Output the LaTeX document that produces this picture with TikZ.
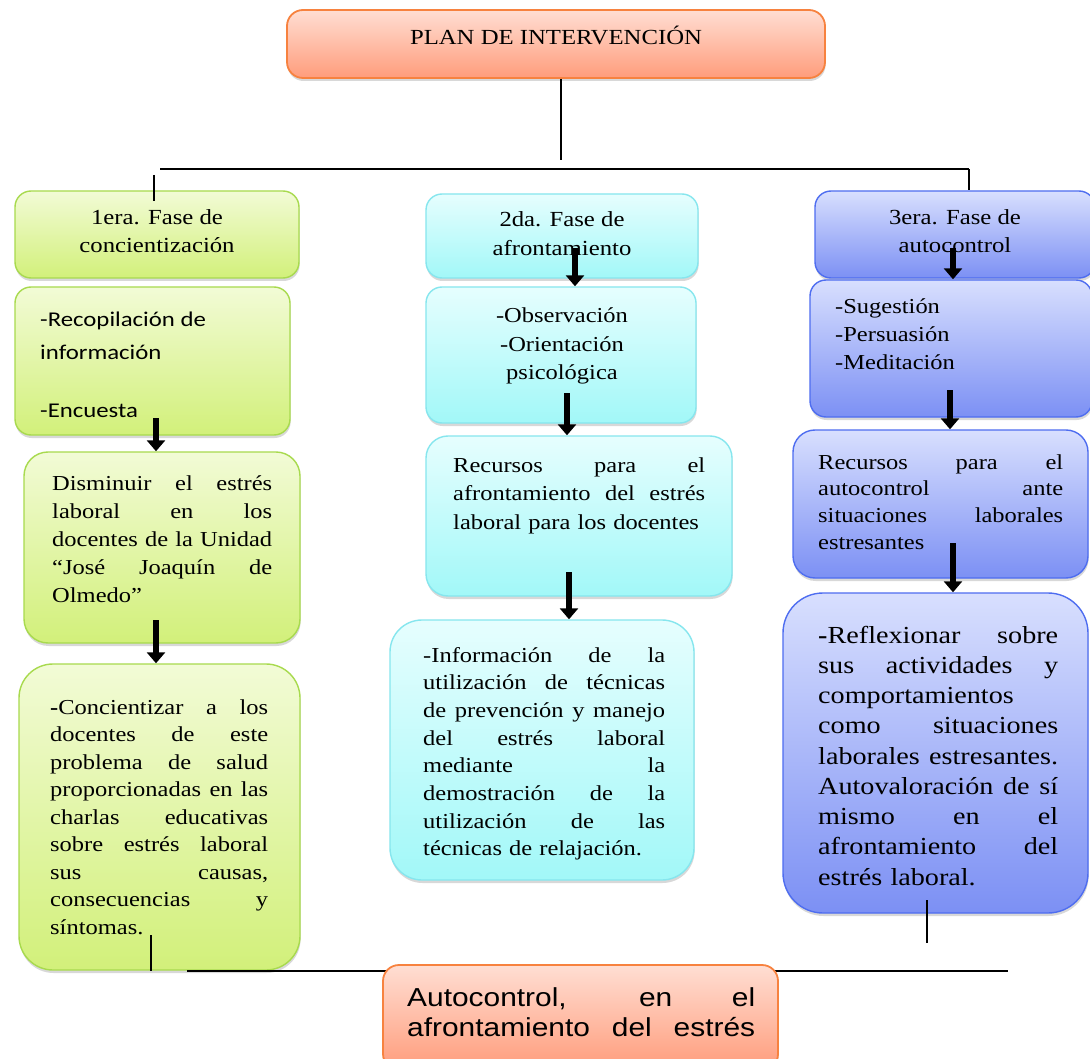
\documentclass[tikz,border=0pt]{standalone}
\usepackage{fontspec}
\setmainfont{Liberation Serif}[FakeStretch=1.15]
\newfontfamily\calfont{Carlito}[FakeStretch=1.18]
\newfontfamily\arfont{Liberation Sans}[FakeStretch=1.15]
\usetikzlibrary{arrows.meta,shadows}
\newcommand\jl[1]{\makebox[\hsize][s]{\spaceskip=0pt\xspaceskip=0pt #1}}
\definecolor{gtop}{HTML}{F2FBD6}
\definecolor{gbot}{HTML}{D2F07A}
\definecolor{gbd}{HTML}{A8DA4E}
\definecolor{ctop}{HTML}{E6FEFE}
\definecolor{cbot}{HTML}{A2F8F8}
\definecolor{cbd}{HTML}{86E6EE}
\definecolor{btop}{HTML}{D8DFFE}
\definecolor{bbot}{HTML}{7C90F4}
\definecolor{bbd}{HTML}{4E6DF0}
\definecolor{otop}{HTML}{FFDED3}
\definecolor{obot}{HTML}{FF9C7B}
\definecolor{obd}{HTML}{F7823F}
\tikzset{
  box/.style={draw, line width=1.4pt, rounded corners=16pt,
    drop shadow={shadow xshift=0.6pt, shadow yshift=-3pt, opacity=0.3}},
  gbox/.style={box, draw=gbd, top color=gtop, bottom color=gbot},
  cbox/.style={box, draw=cbd, top color=ctop, bottom color=cbot},
  bbox/.style={box, draw=bbd, top color=btop, bottom color=bbot},
  obox/.style={box, draw=obd, line width=1.8pt, top color=otop, bottom color=obot},
  lab/.style={inner sep=0pt, anchor=base},
  jtext/.style={inner sep=0pt, anchor=base west, align=left},
  bigarrow/.style={line width=6pt, -{Triangle[width=18pt,length=11pt]}},
  thinline/.style={line width=1.2pt},
  busline/.style={line width=2.6pt},
}
\begin{document}
\begin{tikzpicture}[x=1pt,y=-1pt]
\useasboundingbox (0,0) rectangle (1090,1059);
\clip (0,0) rectangle (1090,1059);
\fill[white] (0,0) rectangle (1090,1059);

% coordinates for connectors
\coordinate (tdrop) at (561,160);
\coordinate (busL) at (160,169);
\coordinate (busR) at (969,169);
\coordinate (stubL) at (154,175);
\coordinate (stubLend) at (154,201);
\coordinate (botL) at (151,935);
\coordinate (hubL) at (187,971);
\coordinate (hubR) at (1008,971);
\coordinate (botR) at (927,900);
\coordinate (botRend) at (927,943);
\coordinate (a1) at (156,418);
\coordinate (a2) at (156,620);
\coordinate (a3) at (575,248);
\coordinate (a4) at (567,393);
\coordinate (a5) at (569,572);
\coordinate (a6) at (953,248);
\coordinate (a7) at (950,390);
\coordinate (a8) at (953,543);

% top box
\node[obox, minimum width=538pt, minimum height=68pt] (T) at (556,44) {};
\node[lab, font=\fontsize{21.5}{26}\selectfont] (Tt) at (556,45) {PLAN DE INTERVENCIÓN};

\draw[thinline] (tdrop |- T.south) -- (tdrop);
\draw[busline] (busL) -- (busR);

% column heads
\node[gbox, minimum width=284pt, minimum height=87pt] (G1) at (157,234.5) {};
\node[cbox, minimum width=272pt, minimum height=84pt] (C1) at (562,236) {};
\node[bbox, minimum width=280pt, minimum height=87pt] (B1) at (955,234.5) {};
\node[lab, align=center, font=\fontsize{21.5}{28}\selectfont] (G1t) at (157,253) {1era. Fase de\\concientización};
\node[lab, align=center, font=\fontsize{21.5}{29}\selectfont] (C1t) at (562,256) {2da. Fase de\\afrontamiento};
\node[lab, align=center, font=\fontsize{21.5}{28}\selectfont] (B1t) at (955,253) {3era. Fase de\\autocontrol};

\draw[thinline] (stubL) -- (stubLend);
\draw[thinline] (busR) -- (busR |- B1.north);

% column 1
\node[gbox, minimum width=275pt, minimum height=148pt] (G2) at (152.5,361) {};
\node[jtext, font=\calfont\fontsize{21}{33}\selectfont] (G2t) at (40,417) {-Recopilación de\\información\\[25pt]-Encuesta};
\node[gbox, minimum width=276pt, minimum height=191pt, rounded corners=24pt] (G3) at (162,547.5) {};
\node[jtext, text width=220pt, font=\fontsize{21.3}{28}\selectfont] (G3t) at (52,490) {\jl{Disminuir el estrés}\\\jl{laboral en los}\\\jl{docentes de la Unidad}\\\jl{“José Joaquín de}\\Olmedo”};
\node[gbox, minimum width=281pt, minimum height=306pt, rounded corners=34pt] (G4) at (159.5,817) {};
\node[jtext, text width=218pt, font=\fontsize{21.3}{27.5}\selectfont] (G4t) at (50,714) {\jl{\textbf{-}Concientizar a los}\\\jl{docentes de este}\\\jl{problema de salud}\\\jl{proporcionadas en las}\\\jl{charlas educativas}\\\jl{sobre estrés laboral}\\\jl{sus causas,}\\\jl{consecuencias y}\\síntomas.};

% column 2
\node[cbox, minimum width=270pt, minimum height=136pt] (C2) at (561,355) {};
\node[lab, align=center, font=\fontsize{21.3}{29}\selectfont] (C2t) at (562,380) {-Observación\\-Orientación\\psicológica};
\node[cbox, minimum width=306pt, minimum height=160pt, rounded corners=22pt] (C3) at (579,516) {};
\node[jtext, text width=252pt, font=\fontsize{21.3}{28.5}\selectfont] (C3t) at (453,472) {\jl{Recursos para el}\\\jl{afrontamiento del estrés}\\laboral para los docentes};
\node[cbox, minimum width=304pt, minimum height=260pt, rounded corners=32pt] (C4) at (542,750) {};
\node[jtext, text width=242pt, font=\fontsize{21.3}{27.7}\selectfont] (C4t) at (423,662) {\jl{-Información de la}\\\jl{utilización de técnicas}\\\jl{de prevención y manejo}\\\jl{del estrés laboral}\\\jl{mediante la}\\\jl{demostración de la}\\\jl{utilización de las}\\técnicas de relajación.};

% column 3
\node[bbox, minimum width=282pt, minimum height=137pt] (B2) at (951,348.5) {};
\node[jtext, font=\fontsize{21.3}{28}\selectfont] (B2t) at (835,370) {-Sugestión\\-Persuasión\\-Meditación};
\node[bbox, minimum width=295pt, minimum height=148pt, rounded corners=22pt] (B3) at (940.5,504) {};
\node[jtext, text width=245pt, font=\fontsize{21.3}{26.7}\selectfont] (B3t) at (818,469) {\jl{Recursos para el}\\\jl{autocontrol ante}\\\jl{situaciones laborales}\\estresantes};
\node[bbox, minimum width=305pt, minimum height=320pt, rounded corners=40pt] (B4) at (935.5,753) {};
\node[jtext, text width=240pt, font=\fontsize{24.5}{30.25}\selectfont] (B4t) at (818,643) {\jl{\textbf{-}Reflexionar sobre}\\\jl{sus actividades y}\\comportamientos\\\jl{como situaciones}\\\jl{laborales estresantes.}\\\jl{Autovaloración de sí}\\\jl{mismo en el}\\\jl{afrontamiento del}\\estrés laboral.};

% arrows
\draw[bigarrow] (a1) -- (a1 |- G3.north);
\draw[bigarrow] (a2) -- (a2 |- G4.north);
\draw[bigarrow] (a3) -- (a3 |- C2.north);
\draw[bigarrow] (a4) -- (a4 |- C3.north);
\draw[bigarrow] (a5) -- (a5 |- C4.north);
\draw[bigarrow] (a6) -- (a6 |- B2.north);
\draw[bigarrow] (a7) -- (a7 |- B3.north);
\draw[bigarrow] (a8) -- (a8 |- B4.north);

% bottom connectors
\draw[thinline] (botL) -- (botL |- G4.south);
\draw[busline] (hubL) -- (hubR);
\draw[thinline] (botR) -- (botRend);

% bottom box
\node[obox, minimum width=395pt, minimum height=105pt] (O) at (580.5,1017.5) {};
\node[jtext, text width=348pt, font=\arfont\fontsize{26}{30}\selectfont] (Ot) at (407,1006) {\jl{Autocontrol, en el}\\\jl{afrontamiento del estrés}};
\end{tikzpicture}
\end{document}
